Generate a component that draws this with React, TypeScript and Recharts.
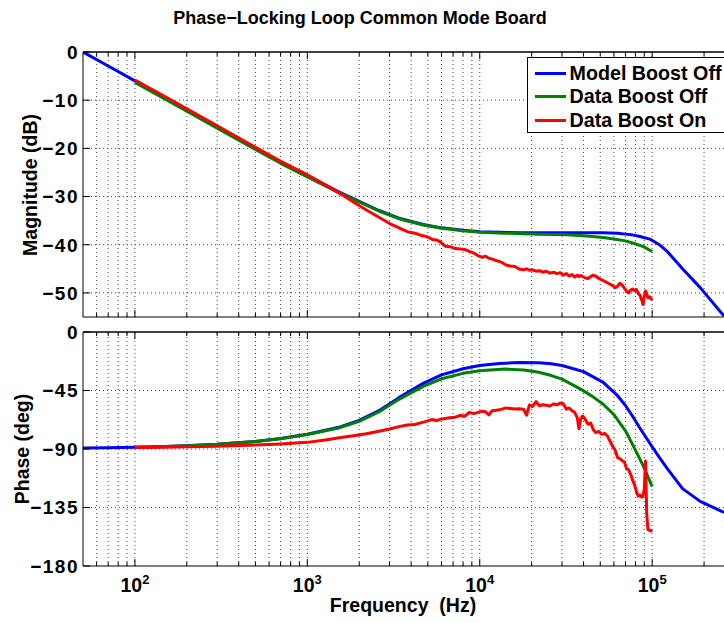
import React from 'react';
import { LineChart, Line, XAxis, YAxis, ReferenceLine } from 'recharts';

const FONT = '"Liberation Sans", Arial, Helvetica, sans-serif';

// ---------- data ----------
const modelFreq = [50, 70, 100, 150, 200, 300, 500, 700, 1000, 1500, 2000, 2600, 3400, 4700, 6000, 8000, 10000, 13000, 17000, 22000, 26000, 30000, 40000, 52000, 63000, 70000, 78000, 85000, 98000, 110000, 123000, 150000, 190000, 261000];
const modelMag = [0, -2.9, -6.0, -9.5, -12.0, -15.5, -19.9, -22.8, -25.6, -28.9, -31.0, -32.9, -34.5, -35.8, -36.5, -37.0, -37.3, -37.4, -37.5, -37.5, -37.5, -37.5, -37.5, -37.5, -37.6, -37.8, -38.0, -38.3, -38.9, -40.0, -41.5, -45.0, -48.9, -54.8];
const modelPhase = [-89.3, -89.0, -88.6, -88.1, -87.5, -86.4, -84.2, -82.0, -78.7, -73.5, -68.0, -60.5, -50.5, -39.5, -33.0, -28.3, -25.8, -24.2, -23.5, -23.7, -24.4, -25.8, -30.5, -38.7, -49.0, -56.5, -66.0, -74.0, -86.5, -96.5, -105.5, -120.5, -130.3, -138.8];

const dataOffFreq = [100, 150, 200, 300, 500, 700, 1000, 1500, 2000, 2600, 3400, 4700, 6000, 8000, 10000, 14000, 18000, 22000, 26000, 30000, 38000, 45000, 52000, 60000, 70000, 78000, 89000, 100000];
const dataOffMag = [-6.3, -9.8, -12.3, -15.8, -20.2, -23.1, -25.9, -29.1, -31.1, -33.0, -34.6, -35.9, -36.6, -37.1, -37.4, -37.6, -37.7, -37.8, -37.9, -37.9, -38.1, -38.3, -38.5, -38.8, -39.2, -39.7, -40.4, -41.4];
const dataOffPhase = [-88.6, -88.1, -87.5, -86.4, -84.3, -82.1, -78.9, -74.0, -68.7, -61.5, -51.8, -41.8, -36.0, -31.8, -29.8, -28.5, -29.3, -31.0, -33.5, -36.3, -43.5, -49.5, -55.6, -63.5, -76.0, -88.0, -103.3, -119.0];

const dataOnFreq = [100, 150, 200, 300, 500, 700, 1000, 1300, 1600, 1900, 2200, 2600, 3000, 3400, 3800, 4200, 4600, 5000, 5300, 5600, 5900, 6300, 6700, 7200, 7700, 8200, 8700, 9200, 9700, 10300, 10800, 11300, 11800, 12500, 13300, 14200, 15000, 16000, 17000, 18000, 18700, 19400, 20200, 21200, 22200, 23200, 24300, 25500, 26800, 28000, 29300, 30500, 31800, 33000, 34300, 35600, 36800, 37600, 38500, 39500, 41000, 42500, 44000, 45500, 47000, 49000, 51000, 53000, 55000, 57000, 59000, 61000, 63000, 65000, 67000, 69000, 71000, 73000, 75000, 77000, 79000, 81000, 83000, 85000, 87000, 88500, 90000, 91500, 93000, 94500, 96500, 98500, 100000];
const dataOnMag = [-5.8, -9.3, -11.8, -15.3, -19.8, -22.7, -25.5, -27.8, -29.7, -31.4, -32.8, -34.3, -35.6, -36.5, -37.3, -37.6, -38.1, -38.4, -38.9, -39.0, -39.4, -40.3, -40.4, -40.8, -40.9, -41.0, -41.4, -41.7, -42.2, -42.6, -42.4, -42.8, -43.0, -43.3, -43.6, -44.2, -44.4, -44.5, -45.1, -45.2, -45.0, -45.3, -45.2, -45.5, -45.4, -45.7, -45.5, -45.9, -45.7, -46.0, -45.8, -46.3, -46.0, -46.5, -46.2, -46.7, -46.3, -46.6, -46.4, -46.6, -46.9, -47.0, -46.6, -46.3, -46.5, -47.0, -47.3, -47.6, -47.9, -48.2, -48.5, -48.9, -48.6, -48.0, -48.4, -49.0, -49.6, -50.0, -49.4, -49.2, -49.5, -49.3, -50.1, -50.5, -51.5, -52.4, -50.8, -49.6, -50.3, -51.0, -50.8, -51.2, -51.5];
const dataOnPhase = [-88.9, -88.6, -88.3, -87.8, -86.9, -86.1, -84.9, -82.8, -81.0, -79.6, -78.3, -76.3, -74.6, -72.8, -71.5, -71.2, -69.7, -68.4, -67.3, -68.2, -67.2, -66.5, -66.0, -65.5, -64.2, -64.8, -61.8, -62.8, -62.0, -60.9, -61.4, -63.8, -60.5, -60.2, -59.5, -58.4, -58.8, -59.3, -59.0, -59.6, -64.0, -56.2, -57.3, -53.6, -56.8, -55.9, -56.4, -56.9, -55.4, -56.0, -54.7, -55.2, -59.4, -58.5, -60.5, -62.0, -66.0, -74.5, -67.0, -64.6, -67.5, -71.0, -70.0, -75.0, -77.4, -76.5, -78.7, -78.0, -80.0, -84.0, -88.0, -91.0, -96.6, -97.5, -99.0, -100.0, -105.0, -106.0, -109.5, -114.0, -117.5, -122.5, -126.3, -125.5, -127.0, -126.0, -121.0, -99.3, -140.0, -152.0, -152.5, -153.0, -153.5];

const freqTicks = [60, 70, 80, 90, 100, 200, 300, 400, 500, 600, 700, 800, 900, 1000, 2000, 3000, 4000, 5000, 6000, 7000, 8000, 9000, 10000, 20000, 30000, 40000, 50000, 60000, 70000, 80000, 90000, 100000, 200000];
const majorFreqTicks = [100, 1000, 10000, 100000];
const majorFreqExponents = ['2', '3', '4', '5'];
const magTicks = [0, -10, -20, -30, -40, -50];
const phaseTicks = [0, -45, -90, -135, -180];
const magGrid = [-10, -20, -30, -40, -50];
const phaseGrid = [-45, -90, -135];
const legendLabels = ['Model Boost Off', 'Data Boost Off', 'Data Boost On'];
const seriesColors = ['#0000ff', '#008000', '#ff0000'];

const X_DOMAIN: [number, number] = [50, 261000];

const zip = (fs: number[], vs: number[]) => fs.map((f, i) => ({ f, v: vs[i] }));

const modelMagData = zip(modelFreq, modelMag);
const modelPhaseData = zip(modelFreq, modelPhase);
const offMagData = zip(dataOffFreq, dataOffMag);
const offPhaseData = zip(dataOffFreq, dataOffPhase);
const onMagData = zip(dataOnFreq, dataOnMag);
const onPhaseData = zip(dataOnFreq, dataOnPhase);

const fmtNum = (v: number) => (v < 0 ? '\u2212' + Math.abs(v) : String(v));

const makeBottomTick = (showLabel: boolean) => (props: any) => {
  const { x, y, payload } = props;
  const v = payload.value;
  const idx = majorFreqTicks.indexOf(v);
  const major = idx >= 0;
  const len = major ? 7 : 4;
  return (
    <g>
      <line x1={x} y1={y} x2={x} y2={y - len} stroke="#000" strokeWidth={1} />
      {showLabel && major ? (
        <text x={x} y={y + 26} textAnchor="middle" fontFamily={FONT} fontWeight="bold" fontSize={19.5} fill="#000">
          10<tspan dy={-8} fontSize={13}>{majorFreqExponents[idx]}</tspan>
        </text>
      ) : null}
    </g>
  );
};

const TopTick = (props: any) => {
  const { x, y, payload } = props;
  const major = majorFreqTicks.indexOf(payload.value) >= 0;
  const len = major ? 7 : 4;
  return <line x1={x} y1={y} x2={x} y2={y + len} stroke="#000" strokeWidth={1} />;
};

const LeftTick = (props: any) => {
  const { x, y, payload } = props;
  return (
    <g>
      <line x1={x} y1={y} x2={x + 7} y2={y} stroke="#000" strokeWidth={1} />
      <text
        x={x - 4}
        y={y}
        dy="0.36em"
        textAnchor="end"
        fontFamily={FONT}
        fontWeight="bold"
        fontSize={19}
        letterSpacing={1.5}
        fill="#000"
      >
        {fmtNum(payload.value)}
      </text>
    </g>
  );
};

const gridStroke = { stroke: '#444', strokeDasharray: '1 3', strokeWidth: 1 };

function Panel(props: {
  height: number;
  margin: any;
  yDomain: [number, number];
  yTicks: number[];
  yGrid: number[];
  series: { f: number; v: number }[][];
  showXLabels: boolean;
}) {
  const { height, margin, yDomain, yTicks, yGrid, series, showXLabels } = props;
  return (
    <LineChart width={724} height={height} margin={margin}>
      <XAxis
        dataKey="f"
        type="number"
        scale="log"
        domain={X_DOMAIN}
        allowDataOverflow
        ticks={freqTicks}
        interval={0}
        height={1}
        tickSize={0}
        tickMargin={0}
        tickLine={false}
        tick={makeBottomTick(showXLabels)}
        axisLine={{ stroke: '#000', strokeWidth: 1 }}
      />
      <XAxis
        xAxisId="top"
        orientation="top"
        dataKey="f"
        type="number"
        scale="log"
        domain={X_DOMAIN}
        allowDataOverflow
        ticks={freqTicks}
        interval={0}
        height={1}
        tickSize={0}
        tickMargin={0}
        tickLine={false}
        tick={TopTick}
        axisLine={{ stroke: '#000', strokeWidth: 1.3 }}
      />
      <YAxis
        type="number"
        domain={yDomain}
        allowDataOverflow
        ticks={yTicks}
        interval={0}
        width={1}
        tickSize={0}
        tickMargin={0}
        tickLine={false}
        tick={LeftTick}
        axisLine={{ stroke: '#000', strokeWidth: 1 }}
      />
      {freqTicks.map((t) => (
        <ReferenceLine key={'vx' + t} x={t} {...gridStroke} />
      ))}
      {yGrid.map((t) => (
        <ReferenceLine key={'hy' + t} y={t} {...gridStroke} />
      ))}
      {series.map((d, i) => (
        <Line
          key={i}
          data={d}
          dataKey="v"
          type="linear"
          stroke={seriesColors[i]}
          strokeWidth={3}
          dot={false}
          activeDot={false}
          isAnimationActive={false}
          strokeLinejoin="round"
        />
      ))}
    </LineChart>
  );
}

export default function App() {
  return (
    <div style={{ position: 'absolute', left: 0, top: 0, width: 724, height: 623, overflow: 'hidden', background: '#fff' }}>
      <div style={{ position: 'absolute', left: 0, top: 0 }}>
        <Panel
          height={330}
          margin={{ top: 51, right: 0, bottom: 12, left: 82 }}
          yDomain={[-55, 0]}
          yTicks={magTicks}
          yGrid={magGrid}
          series={[modelMagData, offMagData, onMagData]}
          showXLabels={false}
        />
      </div>
      <div style={{ position: 'absolute', left: 0, top: 300 }}>
        <Panel
          height={323}
          margin={{ top: 31, right: 0, bottom: 56, left: 82 }}
          yDomain={[-180, 0]}
          yTicks={phaseTicks}
          yGrid={phaseGrid}
          series={[modelPhaseData, offPhaseData, onPhaseData]}
          showXLabels={true}
        />
      </div>
      <svg width={724} height={623} style={{ position: 'absolute', left: 0, top: 0, pointerEvents: 'none' }}>
        <text x={360} y={24} textAnchor="middle" fontFamily={FONT} fontWeight="bold" fontSize={18} fill="#000">
          Phase{'\u2212'}Locking Loop Common Mode Board
        </text>
        <text transform="translate(37,185) rotate(-90)" textAnchor="middle" fontFamily={FONT} fontWeight="bold" fontSize={19.5} fill="#000">
          Magnitude (dB)
        </text>
        <text transform="translate(29,449) rotate(-90)" textAnchor="middle" fontFamily={FONT} fontWeight="bold" fontSize={19.5} fill="#000">
          Phase (deg)
        </text>
        <text x={403} y={612} textAnchor="middle" fontFamily={FONT} fontWeight="bold" fontSize={19.5} fill="#000" style={{ whiteSpace: 'pre' }}>
          {'Frequency  (Hz)'}
        </text>
      </svg>
      <div
        style={{
          position: 'absolute',
          left: 527,
          top: 57,
          width: 230,
          height: 76,
          border: '1.5px solid #000',
          background: '#fff',
          boxSizing: 'border-box',
        }}
      >
        {legendLabels.map((l, i) => (
          <div
            key={l}
            style={{ position: 'absolute', left: 6.5, top: 3 + i * 23.7, height: 24, display: 'flex', alignItems: 'center' }}
          >
            <div style={{ width: 31, height: 3, background: seriesColors[i] }} />
            <span style={{ marginLeft: 4, font: `bold 19.7px ${FONT}`, whiteSpace: 'nowrap', color: '#000' }}>{l}</span>
          </div>
        ))}
      </div>
    </div>
  );
}
